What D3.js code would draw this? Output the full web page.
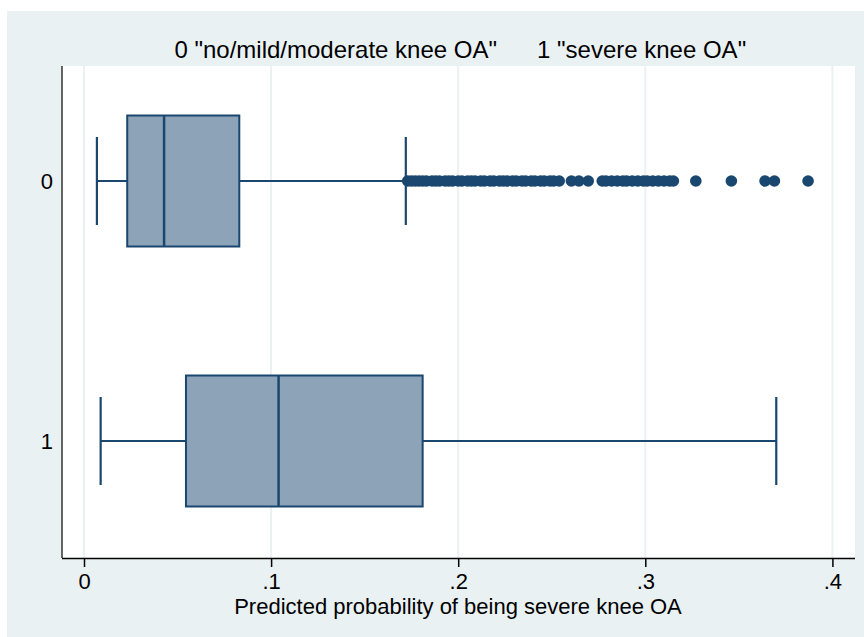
<!DOCTYPE html>
<html><head><meta charset="utf-8">
<script src="https://cdn.jsdelivr.net/npm/d3@7"></script>
<style>body{margin:0;background:#fff}text{font-family:"Liberation Sans",Arial,sans-serif}</style>
</head><body><svg id="c" width="864" height="637"></svg>
<script>
const categories = ["0", "1"];
const lowerWhisker = [0.0069, 0.0089];
const q1 = [0.0231, 0.0545];
const median = [0.0428, 0.1040];
const q3 = [0.0830, 0.1810];
const upperWhisker = [0.1720, 0.3700];
const outliers0 = [0.173,0.175,0.177,0.179,0.181,0.183,0.186,0.188,0.190,0.193,0.195,0.197,0.200,0.202,0.205,0.207,0.209,0.212,0.214,0.217,0.219,0.222,0.224,0.226,0.229,0.231,0.234,0.236,0.239,0.241,0.244,0.246,0.249,0.251,0.254,0.2605,0.2645,0.2695,0.277,0.279,0.282,0.285,0.288,0.290,0.293,0.296,0.299,0.301,0.304,0.307,0.310,0.313,0.315,0.327,0.346,0.364,0.369,0.387];
const outliers1 = [];
const xTicks = [0, 0.1, 0.2, 0.3, 0.4];
const xTickLabels = ["0", ".1", ".2", ".3", ".4"];
const titleParts = ['0 "no/mild/moderate knee OA"', '1 "severe knee OA"'];
const xTitle = "Predicted probability of being severe knee OA";

const svg = d3.select("#c");
const bg = "#eaf1f3", navy = "#1a476f", fill = "#8ca3b8";
svg.append("rect").attr("x",7).attr("y",11).attr("width",857).attr("height",626).attr("fill",bg);
const L=62, R=855, T=66, B=558;
svg.append("rect").attr("x",L).attr("y",T).attr("width",R-L).attr("height",B-T).attr("fill","#fff");
const x = d3.scaleLinear().domain([0,0.4]).range([84,832.4]);
const yc = c => [181,441][categories.indexOf(c)];
// grid
svg.append("g").selectAll("line").data(xTicks).join("line")
  .attr("x1",d=>x(d)).attr("x2",d=>x(d)).attr("y1",T).attr("y2",B)
  .attr("stroke",bg).attr("stroke-width",2);
// boxes
const boxH = 131, capH = 88;
categories.forEach((c,i)=>{
  const cy = yc(c);
  const g = svg.append("g");
  g.append("line").attr("x1",x(lowerWhisker[i])).attr("x2",x(q1[i])).attr("y1",cy).attr("y2",cy).attr("stroke",navy).attr("stroke-width",2);
  g.append("line").attr("x1",x(q3[i])).attr("x2",x(upperWhisker[i])).attr("y1",cy).attr("y2",cy).attr("stroke",navy).attr("stroke-width",2);
  g.append("line").attr("x1",x(lowerWhisker[i])).attr("x2",x(lowerWhisker[i])).attr("y1",cy-capH/2).attr("y2",cy+capH/2).attr("stroke",navy).attr("stroke-width",2.2);
  g.append("line").attr("x1",x(upperWhisker[i])).attr("x2",x(upperWhisker[i])).attr("y1",cy-capH/2).attr("y2",cy+capH/2).attr("stroke",navy).attr("stroke-width",2.2);
  g.append("rect").attr("x",x(q1[i])).attr("y",cy-boxH/2).attr("width",x(q3[i])-x(q1[i])).attr("height",boxH)
    .attr("fill",fill).attr("stroke",navy).attr("stroke-width",2);
  g.append("line").attr("x1",x(median[i])).attr("x2",x(median[i])).attr("y1",cy-boxH/2).attr("y2",cy+boxH/2).attr("stroke",navy).attr("stroke-width",2.5);
  const outs = i===0 ? outliers0 : outliers1;
  g.selectAll("circle").data(outs).join("circle").attr("cx",d=>x(d)).attr("cy",cy).attr("r",5.8).attr("fill",navy);
});
// axes
const xAxis = d3.axisBottom(x).tickValues(xTicks).tickFormat((d,i)=>xTickLabels[i]).tickSize(9).tickSizeOuter(0);
const gx = svg.append("g").attr("transform",`translate(0,${B})`).call(xAxis);
gx.select(".domain").attr("d",`M${L},0.5H${R}`).attr("stroke","#000").attr("stroke-width",1.5);
gx.selectAll(".tick line").attr("stroke","#000").attr("stroke-width",1.5);
gx.selectAll(".tick text").attr("font-size",22).attr("fill","#000").attr("y",15).attr("font-family","Liberation Sans, Arial, sans-serif");
svg.append("line").attr("x1",L).attr("x2",L).attr("y1",T).attr("y2",B).attr("stroke","#333").attr("stroke-width",1.5);
svg.selectAll(".ylab").data(categories).join("text").attr("class","ylab")
  .attr("x",53).attr("y",d=>yc(d)+8).attr("text-anchor","end").attr("font-size",22).text(d=>d);
svg.append("text").attr("x",497).attr("y",58).attr("text-anchor","end").attr("font-size",24).text(titleParts[0]);
svg.append("text").attr("x",537).attr("y",58).attr("text-anchor","start").attr("font-size",24).text(titleParts[1]);
svg.append("text").attr("x",458).attr("y",614).attr("text-anchor","middle").attr("font-size",22).text(xTitle);
</script></body></html>
